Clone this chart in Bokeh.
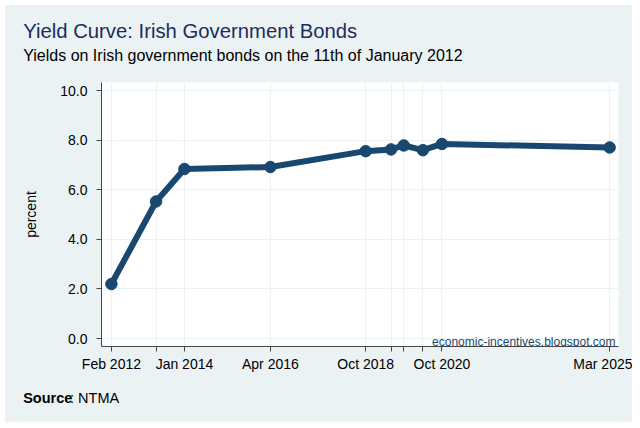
import pandas as pd
from bokeh.plotting import figure
from bokeh.layouts import column
from bokeh.models import Range1d, FixedTicker, Label, CustomJSTickFormatter
from bokeh.embed import file_html
from bokeh.resources import INLINE

# ---- data ----
maturities = ["2012-02-15", "2013-04-18", "2014-01-15", "2016-04-18", "2018-10-18",
              "2019-06-18", "2019-10-18", "2020-04-18", "2020-10-18", "2025-03-13"]
yields = [2.20, 5.53, 6.84, 6.92, 7.56, 7.63, 7.79, 7.60, 7.85, 7.71]
tick_labels = ["Feb 2012", "", "Jan 2014", "Apr 2016", "Oct 2018",
               "", "", "", "Oct 2020", "Mar 2025"]
y_ticks = [0, 2, 4, 6, 8, 10]

x = pd.to_datetime(maturities)
x_ms = [float(t.value // 10**6) for t in x]

BG = "#EAF2F3"
NAVY = "#1A476F"
FONT = "Liberation Sans"
W = 627


def text_panel(h):
    f = figure(width=W, height=h, output_backend="svg", toolbar_location=None,
               x_axis_location=None, y_axis_location=None,
               x_range=Range1d(0, 1), y_range=Range1d(0, 1),
               min_border=0, background_fill_color=BG, border_fill_color=BG,
               outline_line_color=None, frame_align=False)
    f.grid.visible = False
    return f


# ---- header ----
top = text_panel(65)
top.add_layout(Label(x=17.7, y=39.3, x_units="screen", y_units="screen",
                     text="Yield Curve: Irish Government Bonds", text_font=FONT,
                     text_font_size="20.3px", text_color="#1C2D5C", text_baseline="alphabetic"))
top.add_layout(Label(x=17.7, y=15, x_units="screen", y_units="screen",
                     text="Yields on Irish government bonds on the 11th of January 2012",
                     text_font=FONT, text_font_size="16px", text_color="black",
                     text_baseline="alphabetic"))

# ---- main plot ----
p = figure(width=W, height=310, x_axis_type="datetime",
           output_backend="svg", toolbar_location=None,
           x_range=Range1d(pd.Timestamp("2011-11-12"), pd.Timestamp("2025-06-06")),
           y_range=Range1d(-0.32, 10.33),
           min_border_left=96, min_border_right=14, min_border_top=12, min_border_bottom=34,
           background_fill_color="white", border_fill_color=BG,
           outline_line_color=None, frame_align=False)

p.line(x, yields, line_color=NAVY, line_width=6, line_join="round")
p.scatter(x, yields, size=11.5, fill_color=NAVY, line_color=NAVY)

p.xaxis.ticker = FixedTicker(ticks=x_ms)
p.xaxis.formatter = CustomJSTickFormatter(args=dict(tv=x_ms, tl=tick_labels), code="""
let best = -1, bd = 1e99;
for (let i = 0; i < tv.length; i++) { const d = Math.abs(tv[i] - tick); if (d < bd) { bd = d; best = i; } }
return (best >= 0 && bd < 1e6) ? tl[best] : "";
""")
p.yaxis.ticker = FixedTicker(ticks=y_ticks)
p.yaxis.formatter = CustomJSTickFormatter(code="return tick.toFixed(1);")

for ax in (p.xaxis[0], p.yaxis[0]):
    ax.axis_line_color = "#444444"
    ax.major_tick_line_color = "#444444"
    ax.major_tick_in = 0
    ax.major_tick_out = 5
    ax.minor_tick_line_color = None
    ax.major_label_text_font = FONT
    ax.major_label_text_font_size = "14px"
    ax.major_label_text_color = "black"

p.xaxis.major_label_standoff = 4
p.yaxis.major_label_standoff = 9
p.yaxis.axis_label = "percent"
p.yaxis.axis_label_text_font = FONT
p.yaxis.axis_label_text_font_size = "14px"
p.yaxis.axis_label_text_font_style = "normal"
p.yaxis.axis_label_text_color = "black"
p.yaxis.axis_label_standoff = 18

p.xgrid.ticker = FixedTicker(ticks=x_ms)
p.ygrid.ticker = FixedTicker(ticks=y_ticks)
p.grid.grid_line_color = BG
p.grid.grid_line_width = 1.2

p.add_layout(Label(x=514, y=5, x_units="screen", y_units="screen",
                   text="economic-incentives.blogspot.com", text_font=FONT,
                   text_font_size="12px", text_color=NAVY, text_align="right",
                   text_baseline="alphabetic"))

# ---- footer ----
bot = text_panel(42)
bot.add_layout(Label(x=17.7, y=24.7, x_units="screen", y_units="screen",
                     text="Source", text_font=FONT, text_font_size="14.5px",
                     text_font_style="bold", text_color="black", text_baseline="alphabetic"))
bot.add_layout(Label(x=64.5, y=24.7, x_units="screen", y_units="screen",
                     text=": NTMA", text_font=FONT, text_font_size="14.5px",
                     text_color="black", text_baseline="alphabetic"))

layout = column(top, p, bot, spacing=0, margin=(5, 8, 6, 5),
                styles={"background-color": BG})

open("out.html", "w").write(file_html(layout, INLINE))
